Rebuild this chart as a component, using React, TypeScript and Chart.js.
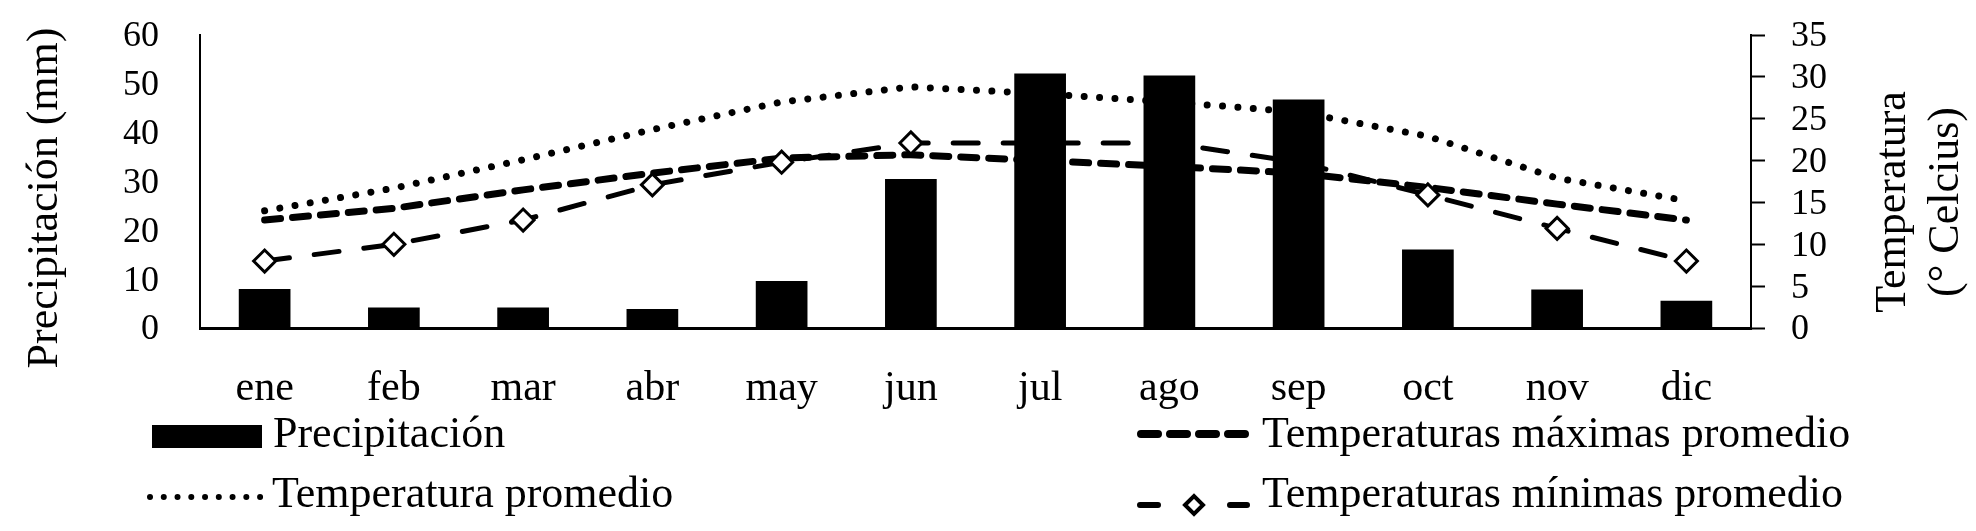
import React, { useEffect, useRef } from "react";
import { Chart, registerables } from "chart.js";

Chart.register(...registerables);

const months = ["ene", "feb", "mar", "abr", "may", "jun", "jul", "ago", "sep", "oct", "nov", "dic"];
const precipitation = [8.0, 4.2, 4.2, 3.9, 9.6, 30.5, 52.1, 51.7, 46.8, 16.1, 7.9, 5.6];
const tempAvg = [14.0, 16.7, 20.1, 23.7, 27.0, 28.8, 28.0, 27.0, 25.8, 22.9, 17.9, 15.2];
const tempMax = [12.9, 14.3, 16.5, 18.5, 20.3, 20.7, 20.0, 19.3, 18.5, 16.8, 14.8, 12.9];
const tempMin = [8.0, 10.0, 12.9, 17.1, 19.8, 22.1, 22.1, 22.1, 19.8, 15.9, 11.9, 8.0];

const seriesNames = [
  "Precipitación",
  "Temperatura promedio",
  "Temperaturas máximas promedio",
  "Temperaturas mínimas promedio",
];
const leftTitle = "Precipitación (mm)";
const rightTitle = ["Temperatura", "(° Celcius)"];

const W = 1976;
const H = 531;
const FAMILY = '"Liberation Serif", "Times New Roman", serif';

const DOT = { width: 7, dash: [0.01, 15.4] };
const MAXD = { width: 7, dash: [16, 12] };
const MIND = { width: 5, dash: [25, 25] };

const noPad = (s: any) => {
  s.paddingTop = 0;
  s.paddingBottom = 0;
  s.paddingLeft = 0;
  s.paddingRight = 0;
};

const overlayPlugin = {
  id: "overlay",
  afterDraw(chart: any) {
    const ctx = chart.ctx as CanvasRenderingContext2D;
    ctx.save();
    ctx.fillStyle = "#000";
    ctx.strokeStyle = "#000";
    ctx.textBaseline = "alphabetic";

    // axis titles
    ctx.font = `44px ${FAMILY}`;
    ctx.textAlign = "center";
    ctx.save();
    ctx.translate(57, 198);
    ctx.rotate(-Math.PI / 2);
    ctx.fillText(leftTitle, 0, 0);
    ctx.restore();
    ctx.save();
    ctx.translate(1905, 202);
    ctx.rotate(-Math.PI / 2);
    ctx.fillText(rightTitle[0], 0, 0);
    ctx.restore();
    ctx.save();
    ctx.translate(1958, 202);
    ctx.rotate(-Math.PI / 2);
    ctx.fillText(rightTitle[1], 0, 0);
    ctx.restore();

    // legend
    ctx.font = `44px ${FAMILY}`;
    ctx.textAlign = "left";
    // precipitation
    ctx.fillRect(152, 425, 110, 23);
    ctx.fillText(seriesNames[0], 273, 447);
    // avg dotted
    ctx.save();
    ctx.lineWidth = 6;
    ctx.lineCap = "round";
    ctx.setLineDash([0.01, 13.75]);
    ctx.beginPath();
    ctx.moveTo(150, 497);
    ctx.lineTo(261, 497);
    ctx.stroke();
    ctx.restore();
    ctx.fillText(seriesNames[1], 272, 507);
    // max dashed
    ctx.save();
    ctx.lineWidth = 8;
    ctx.lineCap = "round";
    ctx.setLineDash([17, 12]);
    ctx.beginPath();
    ctx.moveTo(1141, 434);
    ctx.lineTo(1247, 434);
    ctx.stroke();
    ctx.restore();
    ctx.fillText(seriesNames[2], 1262, 447);
    // min dashed with diamond
    ctx.save();
    ctx.lineWidth = 6;
    ctx.lineCap = "round";
    ctx.beginPath();
    ctx.moveTo(1140, 505);
    ctx.lineTo(1158, 505);
    ctx.moveTo(1230, 505);
    ctx.lineTo(1247, 505);
    ctx.stroke();
    ctx.lineWidth = 4;
    ctx.beginPath();
    ctx.moveTo(1194 - 9, 505);
    ctx.lineTo(1194, 505 - 9);
    ctx.lineTo(1194 + 9, 505);
    ctx.lineTo(1194, 505 + 9);
    ctx.closePath();
    ctx.fillStyle = "#fff";
    ctx.fill();
    ctx.stroke();
    ctx.restore();
    ctx.fillText(seriesNames[3], 1262, 507);

    ctx.restore();
  },
};

export default function App() {
  const canvasRef = useRef<HTMLCanvasElement | null>(null);

  useEffect(() => {
    const canvas = canvasRef.current;
    if (!canvas) return;
    Chart.defaults.font.family = FAMILY;
    Chart.defaults.color = "#000";
    const chart = new Chart(canvas, {
      type: "bar",
      data: {
        labels: months,
        datasets: [
          {
            type: "bar",
            label: seriesNames[0],
            data: precipitation,
            backgroundColor: "#000",
            borderWidth: 0,
            barPercentage: 0.4,
            categoryPercentage: 1.0,
            yAxisID: "y",
            order: 0,
          },
          {
            type: "line",
            label: seriesNames[1],
            data: tempAvg,
            borderColor: "#000",
            borderWidth: DOT.width,
            borderDash: DOT.dash,
            borderCapStyle: "round",
            pointRadius: 0,
            fill: false,
            tension: 0,
            yAxisID: "y1",
            order: 3,
          },
          {
            type: "line",
            label: seriesNames[2],
            data: tempMax,
            borderColor: "#000",
            borderWidth: MAXD.width,
            borderDash: MAXD.dash,
            borderCapStyle: "round",
            pointRadius: 0,
            fill: false,
            tension: 0,
            yAxisID: "y1",
            order: 2,
          },
          {
            type: "line",
            label: seriesNames[3],
            data: tempMin,
            borderColor: "#000",
            borderWidth: MIND.width,
            borderDash: MIND.dash,
            borderCapStyle: "round",
            pointStyle: "rectRot",
            pointRadius: 11,
            pointBorderWidth: 3,
            pointBorderColor: "#000",
            pointBackgroundColor: "#fff",
            fill: false,
            tension: 0,
            yAxisID: "y1",
            order: 1,
          },
        ] as any,
      },
      options: {
        responsive: false,
        maintainAspectRatio: false,
        devicePixelRatio: 1,
        animation: false,
        layout: { padding: { top: 35, left: 0, right: 0, bottom: 0 } },
        plugins: {
          legend: { display: false },
          tooltip: { enabled: false },
          title: { display: false },
        },
        scales: {
          x: {
            grid: { display: true, drawOnChartArea: false, drawTicks: false },
            border: { display: true, color: "#000", width: 3 },
            ticks: {
              color: "#000",
              font: { size: 42, family: FAMILY },
              padding: 36,
              maxRotation: 0,
              autoSkip: false,
            },
            afterFit: (s: any) => {
              s.height = H - 328;
              noPad(s);
            },
          },
          y: {
            position: "left",
            min: 0,
            max: 60,
            grid: { display: true, drawOnChartArea: false, drawTicks: false },
            border: { display: true, color: "#000", width: 2 },
            ticks: {
              stepSize: 10,
              autoSkip: false,
              color: "#000",
              font: { size: 36, family: FAMILY },
              padding: 41,
              labelOffset: 2,
            },
            afterFit: (s: any) => {
              s.width = 200;
              noPad(s);
            },
          },
          y1: {
            position: "right",
            min: 0,
            max: 35,
            grid: {
              display: true,
              drawOnChartArea: false,
              drawTicks: true,
              tickLength: 14,
              tickColor: "#000",
              tickWidth: 2,
              color: "#000",
            },
            border: { display: true, color: "#000", width: 2 },
            ticks: {
              stepSize: 5,
              autoSkip: false,
              color: "#000",
              font: { size: 36, family: FAMILY },
              padding: 26,
              labelOffset: 2,
            },
            afterFit: (s: any) => {
              s.width = W - 1751;
              noPad(s);
            },
          },
        },
      } as any,
      plugins: [overlayPlugin],
    });
    return () => chart.destroy();
  }, []);

  return (
    <div style={{ position: "fixed", left: 0, top: 0, width: W, height: H, background: "#fff" }}>
      <canvas ref={canvasRef} width={W} height={H} style={{ display: "block", width: W, height: H }} />
    </div>
  );
}
